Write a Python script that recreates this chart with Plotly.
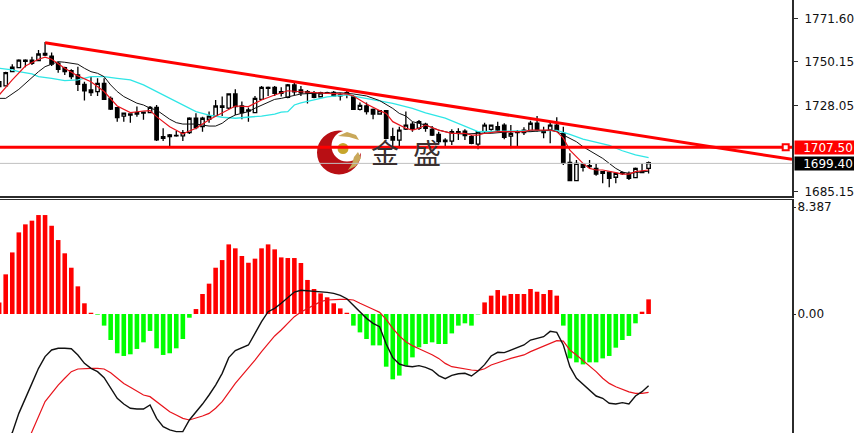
import plotly.graph_objects as go

# ---------- price pane ----------
bar_index = list(range(100))
opens = [1740.1,1738,1745.1,1747.1,1750.9,1750.9,1750.6,1754.2,1752.9,1749.3,
         1747.1,1745.6,1743.5,1738.8,1736,1735.2,1739.3,1731.8,1727.2,1723,
         1724,1724.7,1724.9,1724.7,1727.3,1712.7,1713.6,1713.4,1713.1,1714.7,
         1721.9,1717.7,1721.4,1723,1728,1726.9,1734,1728,1726,1724.7,
         1731.3,1737.3,1737.3,1735.2,1732.3,1738.5,1736,1735.1,1734.6,1732.6,
         1734.6,1734.8,1733.5,1734,1732.6,1726.3,1728,1726.3,1724,1725.7,
         1712.7,1711,1716.5,1718.9,1716.9,1719,1716.4,1713.9,1711,1710.5,
         1715.2,1715.5,1712.7,1709,1715.2,1716.4,1717.7,1718.5,1713,1715.2,
         1714.7,1715.7,1719.4,1715.2,1716,1718.5,1714.4,1699.9,1690.8,1699.1,
         1698.3,1696.9,1695.3,1695,1692.5,1694.8,1694.4,1692.3,1695.3,1696.9]
highs = [1741.3,1745.1,1748.8,1751.3,1751.3,1752.6,1755.9,1759.9,1754.6,1750.1,
         1747.6,1746.3,1747.6,1740.1,1742.6,1741.8,1741.8,1732.7,1727.2,1724.4,
         1724.4,1727.7,1725.2,1728,1728.5,1716.9,1714.1,1715.6,1716.1,1722.4,
         1724.4,1722.7,1725.2,1731,1732.7,1734.3,1736.3,1730.2,1727.3,1733,
         1738,1737.7,1738,1737.3,1739,1740.1,1738,1736,1735.5,1735.1,
         1735.1,1735.5,1734.6,1735.6,1733.5,1729.7,1729.7,1726.8,1726,1726,
         1717.2,1717.7,1725.2,1720.2,1721,1719.7,1718,1715.2,1711.9,1716.4,
         1716.9,1716.4,1713.5,1715.5,1719.7,1718.5,1720.2,1719.4,1718.5,1716,
         1717.4,1720.7,1723,1717.7,1720.2,1722.4,1717.7,1704.4,1701.1,1699.4,
         1701.1,1699.1,1695.6,1695.3,1694.8,1695.3,1695.3,1697.4,1699.4,1700.4]
lows = [1736.8,1737.7,1745.1,1747.1,1747.3,1748.4,1750.6,1752.9,1747.9,1744.6,
        1743.5,1741.3,1735.5,1730.7,1733,1733,1731,1726,1720.2,1720.2,
        1719.7,1722.7,1721.1,1724.4,1710.6,1710.6,1708.1,1712.7,1710.6,1714.1,
        1716.4,1715.2,1719.7,1722.7,1723,1726.4,1723.5,1721.4,1720.2,1724.4,
        1731,1733,1733,1732.7,1731.8,1733.5,1733,1729.3,1731.8,1732.3,
        1734,1732.6,1730.7,1731.8,1726,1725.7,1723.8,1721.4,1723.8,1711.4,
        1706.9,1706.9,1716,1715.2,1716,1715.2,1713,1709,1708.1,1708.6,
        1711,1711,1709,1706.4,1714.4,1715.7,1715.2,1711.4,1706.9,1707.7,
        1713.5,1715.2,1715.2,1711.9,1709.4,1715.2,1698.6,1690.8,1690.8,1695.3,
        1696.9,1693.3,1689.5,1687.5,1689.5,1693.6,1691.1,1692,1694.8,1694.4]
closes = [1737.7,1744.6,1747.3,1750.9,1750.3,1749.3,1753.9,1753.4,1748.9,1746.3,
          1745.1,1742.6,1738.8,1735.5,1734.7,1739.3,1731.3,1726.5,1722.2,1724.4,
          1723.5,1724,1724.5,1727.3,1711.1,1711.9,1712.7,1713.1,1714.7,1721.9,
          1717.2,1721.9,1723,1728,1727.3,1734,1727.7,1724.7,1725.5,1731.8,
          1737.3,1736.8,1734.3,1734.3,1738.5,1735.1,1734.6,1734.6,1732.3,1734.6,
          1734.3,1733,1733.1,1734.6,1726.3,1728.3,1725.2,1724,1725.7,1711.9,
          1711,1716,1718.5,1716.5,1720.2,1716.9,1713.5,1710.2,1710.2,1715.2,
          1714.7,1713.2,1709.4,1715.2,1718.5,1718.5,1716,1712.4,1714.4,1714.7,
          1716,1719.4,1716,1714.7,1718.5,1715.7,1699.4,1690.8,1699.4,1697.4,
          1697.8,1694.1,1694.4,1692,1694.4,1694.3,1692,1696.9,1694.8,1699.8]

ma_fast_x = [0,2,4,6,7,8,10,12,14,16,18,20,22,23,24,26,28,30,32,34,36,38,40,42,
             44,46,48,50,52,53,54,56,58,59,60,62,63,64,65,67,69,71,72,73,74,76,78,80,81,84,85,86,87,
             88,89,90,91,92,93,94,95,96,97,99]
ma_fast_y = [1733.5,1741,1747.9,1751.3,1752.3,1751.3,1746.8,1743,1740.1,1735.2,1728,1724.7,1725.5,1725.7,1722.7,1717.7,1714.1,1716.9,1721.1,1724.7,1728,1727.7,1731,1733.5,
             1735.6,1735.1,1734.6,1734.3,1734,1734,1733,1729,1725.7,1724.3,1720.2,1716.9,1716,1716.9,1718.5,1716,1714.4,1714.4,1713.5,1713.5,1714.4,1715.2,1715.2,1715.2,1716,1716,1715.2,1712,1706,
             1702.8,1699.4,1696.9,1696.1,1696.1,1695.3,1694.8,1694.1,1694.1,1695.3,1696.1]

ma_mid_x = [0,1,3,4,5,6,7,8,9,10,11,12,13,14,15,16,17,18,19,20,21,22,23,24,25,26,27,28,30,31,32,33,34,35,36,37,38,39,40,41,42,43,
            44,46,48,50,52,54,56,58,60,61,62,63,65,67,69,71,73,75,78,81,84,85,86,
            87,88,89,90,91,92,93,94,95,96,97,99]
ma_mid_y = [1731.8,1731.8,1736.3,1739.3,1741.8,1745.1,1747.6,1748.9,1750.1,1749.8,1749.3,1748.8,1746.8,1745.1,1744.3,1742.6,1738.5,1735.2,1732.7,1731,1729.4,1728.5,1726.9,1726,1723.5,1721.4,1719.7,1719,1719,1718.6,1718,1718,1719.4,1721.9,1723.5,1724.4,1725.2,1726.9,1728.5,1729.7,1731.3,1731.8,
            1732.6,1734,1734.3,1734.6,1734.6,1734,1733,1730.7,1726.8,1724.3,1723,1720.2,1718.5,1716,1714.4,1714,1714.4,1714.4,1715.2,1715.2,1716,1715.2,1713.5,
            1711.9,1710.2,1707.7,1705.7,1703.6,1701.9,1699.4,1696.9,1695.1,1694.4,1694.8,1695.5]

ma_slow_x = [0,2,3,5,6,8,10,12,14,16,18,20,22,24,26,28,30,32,34,36,38,40,42,43,
             44,45,46,48,50,53,55,57,60,63,65,68,70,73,75,79,84,85,86,87,89,91,93,95,97,99]
ma_slow_y = [1746.8,1746,1745.1,1744,1742.6,1741.8,1740.6,1741,1742.6,1742.6,1741.8,1741,1738.5,1735.2,1731.8,1728.5,1725.2,1723.5,1722.4,1721.9,1722.4,1723,1723.9,1724.9,
             1725.2,1728.5,1729.5,1731,1732.5,1733.5,1732.3,1731,1729.3,1726.8,1724.6,1721.9,1719.2,1715.2,1715.3,1715.5,1716,1715.9,1714.8,1713.9,1711.5,1710,1708.4,1705.7,1703.6,1702.3]

support_level = 1707.50
last_price = 1699.40
trend_x = [7, 120.86]
trend_y = [1759.5, 1701.4]
handle_x = [119.9]

price_ticks = [1771.60, 1750.15, 1728.05, 1685.15]
price_tick_labels = ["1771.60", "1750.15", "1728.05", "1685.15"]

# ---------- MACD pane ----------
macd_hist = [0.91,3.11,4.83,6.40,7.03,7.32,7.76,7.76,6.92,5.80,
             4.76,3.63,2.17,0.84,0.10,-0.05,-0.91,-2.04,-3.08,-3.29,
             -3.16,-2.74,-2.22,-1.33,-2.69,-3.21,-3.08,-2.69,-1.96,-0.29,
             0.39,1.57,2.38,3.63,4.23,5.46,5.15,4.55,4.02,4.34,
             5.15,5.46,5.07,4.44,4.39,4.39,4.0,2.67,1.96,1.62,
             1.31,0.84,0.44,0.10,-0.91,-1.44,-1.96,-2.46,-2.46,-4.13,
             -5.12,-4.83,-4.05,-3.40,-2.61,-2.35,-2.22,-2.35,-2.35,-1.52,
             -0.91,-0.73,-0.91,-0.03,0.91,1.44,1.88,1.44,1.57,1.57,
             1.57,1.96,1.75,1.57,1.88,1.44,-0.91,-3.48,-3.79,-3.95,
             -3.79,-3.79,-3.48,-3.29,-2.64,-2.04,-1.72,-0.73,0.18,1.15]

macd_black_x = list(range(1, 100))
macd_black = [-10.3,-9.3,-7.79,-6.56,-5.44,-4.26,-3.34,-2.82,-2.69,-2.69,-2.72,-3.21,-3.87,-4.26,-4.52,-4.99,-5.77,-6.61,-7.06,-7.39,
              -7.45,-7.45,-7.13,-8.18,-8.83,-9.09,-9.22,-9.22,-8.31,-7.71,-7.06,-6.35,-5.57,-4.65,-3.42,-2.87,-2.64,-2.43,-1.52,-0.60,
              0.18,0.44,0.84,1.31,1.72,1.86,1.83,1.78,1.72,1.70,1.62,1.46,1.20,0.71,0.18,-0.34,-0.73,-0.99,-2.35,-3.42,
              -3.92,-4.08,-4.13,-4.05,-4.18,-4.39,-4.83,-5.07,-4.81,-4.68,-4.65,-4.86,-4.47,-3.97,-3.29,-3.0,-3.03,-2.82,-2.61,-2.43,
              -2.04,-1.88,-1.78,-1.36,-1.44,-2.43,-4.13,-5.04,-5.49,-5.91,-6.43,-6.61,-7.0,-7.06,-6.95,-7.06,-6.43,-6.09,-5.62]

macd_red_x = list(range(4, 100))
macd_red = [-10.4,-9.22,-7.92,-6.87,-6.22,-5.57,-5.04,-4.52,-4.31,-4.27,-4.26,-4.26,-4.31,-4.60,-5.04,-5.44,-5.75,-6.04,-6.35,-6.48,
            -6.87,-7.26,-7.66,-7.92,-8.18,-8.31,-8.18,-8.0,-7.79,-7.39,-6.87,-6.14,-5.44,-4.83,-4.26,-3.61,-2.95,-2.30,-1.72,-1.25,
            -0.73,-0.21,0.16,0.44,0.71,0.97,1.10,1.15,1.15,1.15,1.10,0.84,0.63,0.37,0.13,-0.42,-1.12,-1.72,-2.17,-2.48,
            -2.72,-2.95,-3.19,-3.48,-3.87,-4.13,-4.23,-4.34,-4.39,-4.44,-4.29,-4.0,-3.81,-3.61,-3.48,-3.34,-3.21,-2.95,-2.74,-2.51,
            -2.30,-2.09,-2.12,-2.82,-3.21,-3.66,-4.05,-4.52,-5.04,-5.44,-5.70,-5.91,-6.11,-6.22,-6.22,-6.14]

macd_ticks = [8.387, 0.0]
macd_tick_labels = ["8.387", "0.00"]

AXIS = "#2b2b2b"
RED = "#ff0000"
W, H = 854, 433
FIG_H = 436  # the page draws the figure 3 px short of the window otherwise
XDOM = [0, 792 / W]
XRANGE = [0.13, 120.86]
TICK_FONT = dict(family="DejaVu Sans", size=12, color="#111111")

fig = go.Figure()

fig.add_trace(go.Candlestick(
    x=bar_index, open=opens, high=highs, low=lows, close=closes,
    xaxis="x", yaxis="y", whiskerwidth=0,
    increasing=dict(line=dict(color="#000000", width=1.3), fillcolor="#ffffff"),
    decreasing=dict(line=dict(color="#000000", width=1.3), fillcolor="#000000"),
    showlegend=False, hoverinfo="skip"))

for xs, ys, c, w in [(ma_slow_x, ma_slow_y, "#2fe6e6", 1.3),
                     (ma_mid_x, ma_mid_y, "#111111", 1),
                     (ma_fast_x, ma_fast_y, "#e8141c", 1.2)]:
    fig.add_trace(go.Scatter(x=xs, y=ys, mode="lines", xaxis="x", yaxis="y",
                             line=dict(color=c, width=w), showlegend=False, hoverinfo="skip"))

fig.add_trace(go.Scatter(x=[XRANGE[0], XRANGE[1]], y=[last_price, last_price], mode="lines",
                         xaxis="x", yaxis="y", line=dict(color="#c0c0c0", width=1),
                         showlegend=False, hoverinfo="skip"))
fig.add_trace(go.Scatter(x=[XRANGE[0], XRANGE[1]], y=[support_level, support_level], mode="lines",
                         xaxis="x", yaxis="y", line=dict(color=RED, width=3),
                         showlegend=False, hoverinfo="skip"))
fig.add_trace(go.Scatter(x=trend_x, y=trend_y, mode="lines",
                         xaxis="x", yaxis="y", line=dict(color=RED, width=3),
                         showlegend=False, hoverinfo="skip"))
fig.add_trace(go.Scatter(x=handle_x, y=[support_level], mode="markers", xaxis="x", yaxis="y",
                         marker=dict(symbol="square", size=6, color="#ffffff", line=dict(color=RED, width=2)),
                         showlegend=False, hoverinfo="skip"))

fig.add_trace(go.Bar(x=bar_index, y=macd_hist, xaxis="x2", yaxis="y2", width=0.7,
                     marker=dict(color=[RED if v >= 0 else "#00ff00" for v in macd_hist], line=dict(width=0)),
                     showlegend=False, hoverinfo="skip"))
fig.add_trace(go.Scatter(x=macd_red_x, y=macd_red, mode="lines", xaxis="x2", yaxis="y2",
                         line=dict(color="#e8141c", width=1.2), showlegend=False, hoverinfo="skip"))
fig.add_trace(go.Scatter(x=macd_black_x, y=macd_black, mode="lines", xaxis="x2", yaxis="y2",
                         line=dict(color="#111111", width=1.4), showlegend=False, hoverinfo="skip"))


def px(x):
    return x / W


def py(y):
    return 1 - y / H


def circle(cx, cy, r, color):
    return dict(type="circle", xref="paper", yref="paper", layer="below",
                x0=px(cx - r), x1=px(cx + r), y0=py(cy + r), y1=py(cy - r),
                fillcolor=color, line=dict(width=0))


def poly(points, color):
    d = "M " + " L ".join(f"{px(a):.5f},{py(b):.5f}" for a, b in points) + " Z"
    return dict(type="path", xref="paper", yref="paper", layer="below", path=d,
                fillcolor=color, line=dict(width=0))


shapes = [
    circle(339, 152.5, 22, "#b80f14"),
    circle(347, 146, 15.5, "#ffffff"),
    poly([(338, 136), (347, 132), (356, 135), (359, 140), (349, 137)], "#c9a85a"),
    poly([(354, 157), (358, 152), (361, 158), (356, 166), (348, 170), (352, 164)], "#c9a85a"),
    circle(343, 148.5, 5.5, "#c7a62c"),
]

fig.update_layout(
    width=W, height=FIG_H, margin=dict(l=0, r=0, t=0, b=0),
    paper_bgcolor="#ffffff", plot_bgcolor="#ffffff",
    hovermode=False, dragmode=False, showlegend=False, bargap=0.3, boxgap=0.25,
    xaxis=dict(domain=XDOM, range=XRANGE, anchor="y", showgrid=False, zeroline=False, showticklabels=False,
               ticks="", showline=True, linecolor=AXIS, linewidth=1.5, rangeslider=dict(visible=False)),
    xaxis2=dict(domain=XDOM, range=XRANGE, anchor="y2", side="top", showgrid=False, zeroline=False,
                showticklabels=False, ticks="", showline=True, linecolor=AXIS, linewidth=1.5),
    yaxis=dict(domain=[1 - 196 / H, 1], range=[1683.15, 1780.82], anchor="x", side="right",
               showgrid=False, zeroline=False, showline=True, linecolor=AXIS, linewidth=2,
               ticks="outside", ticklen=4, tickcolor=AXIS, tickwidth=1,
               tickvals=price_ticks, ticktext=price_tick_labels, tickfont=TICK_FONT,
               ticklabelstandoff=4, ticklabeloverflow="allow"),
    yaxis2=dict(domain=[0, 233 / H], range=[-9.33, 8.94], anchor="x2", side="right",
                showgrid=False, zeroline=False, showline=True, linecolor=AXIS, linewidth=2,
                ticks="outside", ticklen=2, tickcolor=AXIS, tickwidth=1,
                tickvals=macd_ticks, ticktext=macd_tick_labels, tickfont=TICK_FONT,
                ticklabelstandoff=-1, ticklabeloverflow="allow"),
    shapes=shapes,
    annotations=[
        dict(text=f"{support_level:.2f}", xref="paper", yref="y", x=px(794), y=support_level, xanchor="left",
             yanchor="middle", showarrow=False, bgcolor=RED, font=dict(family="DejaVu Sans", size=12, color="#ffffff"),
             width=66, align="center", borderpad=0, height=13),
        dict(text=f"{last_price:.2f}", xref="paper", yref="y", x=px(794), y=last_price, xanchor="left",
             yanchor="middle", showarrow=False, bgcolor="#000000", font=dict(family="DejaVu Sans", size=12, color="#ffffff"),
             width=66, align="center", borderpad=0, height=13),
        dict(text="金", xref="paper", yref="paper", x=px(385), y=py(152), xanchor="center", yanchor="middle",
             showarrow=False, font=dict(family="Noto Sans CJK SC", size=28, color="#3a3030")),
        dict(text="盛", xref="paper", yref="paper", x=px(427), y=py(152), xanchor="center", yanchor="middle",
             showarrow=False, font=dict(family="Noto Sans CJK SC", size=28, color="#3a3030")),
    ],
)

fig.write_html("out.html", config=dict(displayModeBar=False, staticPlot=True),
               post_script="document.body.style.margin='0';document.documentElement.style.overflow='hidden';")
